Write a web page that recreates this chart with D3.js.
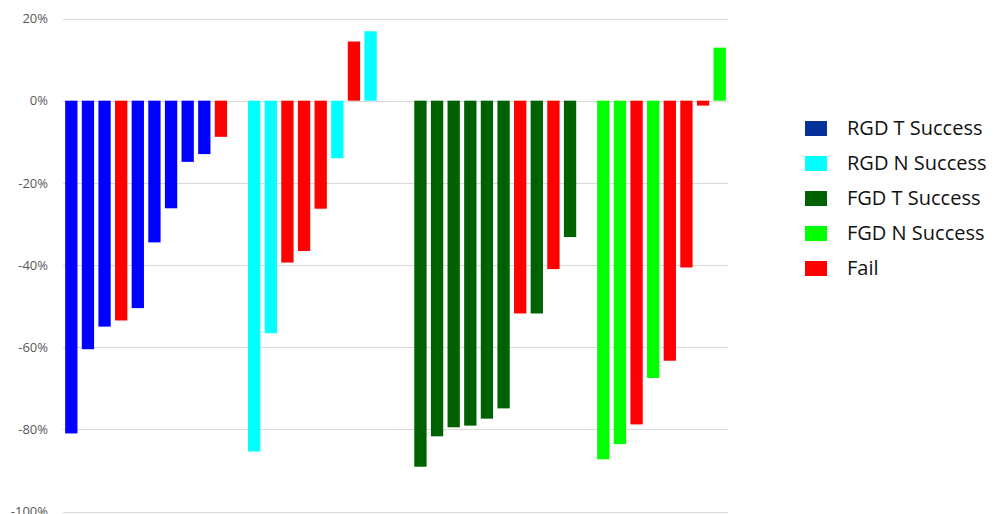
<!DOCTYPE html>
<html>
<head>
<meta charset="utf-8">
<script src="https://cdn.jsdelivr.net/npm/d3@7"></script>
<style>
  body { margin: 0; background: #fff; }
  svg { display: block; font-family: "Open Sans", "Noto Sans", sans-serif; }
</style>
</head>
<body>
<div id="chart"></div>
<script>
// values in percent; 1 = Fail bar
var rgdT = [-81, -60.5, -55, -53.5, -50.5, -34.5, -26.2, -14.9, -13, -8.8];
var rgdTFail = [0, 0, 0, 1, 0, 0, 0, 0, 0, 1];
var rgdN = [-85.4, -56.6, -39.4, -36.6, -26.3, -14, 14.4, 16.9];
var rgdNFail = [0, 0, 1, 1, 1, 0, 1, 0];
var fgdT = [-89.1, -81.7, -79.5, -79.1, -77.4, -74.9, -51.8, -51.8, -41, -33.2];
var fgdTFail = [0, 0, 0, 0, 0, 0, 1, 0, 1, 0];
var fgdN = [-87.3, -83.6, -78.8, -67.5, -63.3, -40.6, -1.2, 12.9];
var fgdNFail = [0, 0, 1, 0, 1, 1, 1, 0];

var seriesNames = ["RGD T Success", "RGD N Success", "FGD T Success", "FGD N Success", "Fail"];
var yTicks = [20, 0, -20, -40, -60, -80, -100];

var w = 1003;
var h = 514;
var barColors = ["#0000ff", "#00ffff", "#006100", "#00ff00", "#ff0000"];
var legendColors = ["#06319b", "#00ffff", "#006100", "#00ff00", "#ff0000"];
var gapsAfter = [1, 2, 1, 0]; // empty slots between groups

// build one slot per bar, blanks in between the groups
var groups = [[rgdT, rgdTFail], [rgdN, rgdNFail], [fgdT, fgdTFail], [fgdN, fgdNFail]];
var slots = [];
groups.forEach(function(g, gi) {
    g[0].forEach(function(v, i) {
        slots.push({ key: "g" + gi + "_" + i, value: v, series: g[1][i] ? 4 : gi });
    });
    for (var k = 0; k < gapsAfter[gi]; k++) {
        slots.push({ key: "gap" + gi + "_" + k, value: null });
    }
});

var svg = d3.select("#chart")
    .append("svg")
    .attr("width", w)
    .attr("height", h);

var x = d3.scaleBand()
    .domain(slots.map(function(d) { return d.key; }))
    .range([63, 728])
    .paddingInner(0.26)
    .paddingOuter(0.13);

var y = d3.scaleLinear()
    .domain([-100, 20])
    .range([511.5, 18.5]);

// gridlines
svg.append("g")
    .selectAll("line")
    .data(yTicks)
    .enter()
    .append("line")
    .attr("x1", 63)
    .attr("x2", 728)
    .attr("y1", function(d) { return Math.round(y(d)) + 0.5; })
    .attr("y2", function(d) { return Math.round(y(d)) + 0.5; })
    .attr("stroke", "#d9d9d9")
    .attr("stroke-width", 1);

// y axis labels
var yAxis = d3.axisLeft(y)
    .tickValues(yTicks)
    .tickSize(0)
    .tickPadding(0)
    .tickFormat(function(d) { return d + "%"; });

svg.append("g")
    .attr("transform", "translate(48,0)")
    .call(yAxis)
    .call(function(g) { g.select(".domain").remove(); })
    .selectAll("text")
    .attr("fill", "#595959")
    .attr("font-size", "13px")
    .attr("font-family", "\"Open Sans\", \"Noto Sans\", sans-serif");

// bars
svg.append("g")
    .selectAll("rect")
    .data(slots.filter(function(d) { return d.value !== null; }))
    .enter()
    .append("rect")
    .attr("x", function(d) { return x(d.key); })
    .attr("width", x.bandwidth())
    .attr("y", function(d) { return y(Math.max(0, d.value)); })
    .attr("height", function(d) { return Math.abs(y(d.value) - y(0)); })
    .attr("fill", function(d) { return barColors[d.series]; });

// legend
var legend = svg.append("g")
    .selectAll("g")
    .data(seriesNames)
    .enter()
    .append("g")
    .attr("transform", function(d, i) { return "translate(805," + (121 + i * 35) + ")"; });

legend.append("rect")
    .attr("width", 22)
    .attr("height", 15)
    .attr("fill", function(d, i) { return legendColors[i]; });

legend.append("text")
    .attr("x", 42)
    .attr("y", 14)
    .attr("font-size", "20px")
    .attr("fill", "#111")
    .text(function(d) { return d; });
</script>
</body>
</html>
